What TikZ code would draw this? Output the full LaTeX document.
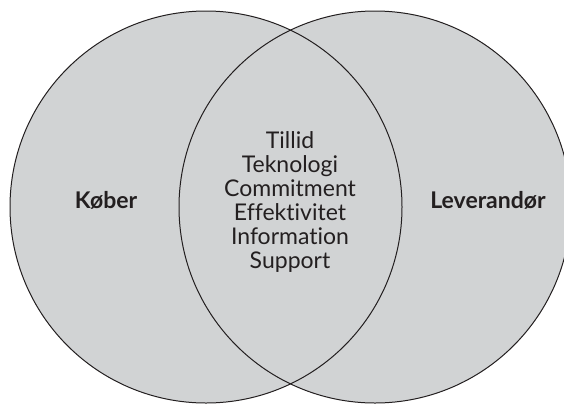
\documentclass[tikz,border=0pt]{standalone}
\usepackage{fontspec}
\setmainfont{Lato}[Ligatures={NoCommon,NoRare}]
\definecolor{vennfill}{HTML}{D1D3D4}
\definecolor{vennline}{HTML}{231F20}
\tikzset{
  venn/.style={fill=vennfill},
  vennedge/.style={draw=vennline, line width=1pt},
  side/.style={font=\fontsize{23}{24}\selectfont\bfseries, anchor=base, inner sep=0pt, text=vennline},
  mid/.style={font=\fontsize{23}{24}\selectfont, align=center, anchor=base, inner sep=0pt, text=vennline}
}
\begin{document}
\begin{tikzpicture}[x=1pt, y=-1pt]
\useasboundingbox (0,0) rectangle (564,405);
\clip (0,0) rectangle (564,405);
\coordinate (cl) at (206,207);
\coordinate (cr) at (375,207);
\fill[venn] (cl) circle[radius=196];
\fill[venn] (cr) circle[radius=196];
\draw[vennedge] (cl) circle[radius=196];
\draw[vennedge] (cr) circle[radius=196];
\node[side] (kober) at (106,208) {Køber};
\node[side] (lev) at (488,208) {Leverandør};
\node[mid] (l1) at (290,148) {Tillid};
\node[mid] (l2) at (290,172) {Teknologi};
\node[mid] (l3) at (290,196) {Commitment};
\node[mid] (l4) at (290,220) {Effektivitet};
\node[mid] (l5) at (290,244) {Information};
\node[mid] (l6) at (290,268) {Support};
\end{tikzpicture}
\end{document}
